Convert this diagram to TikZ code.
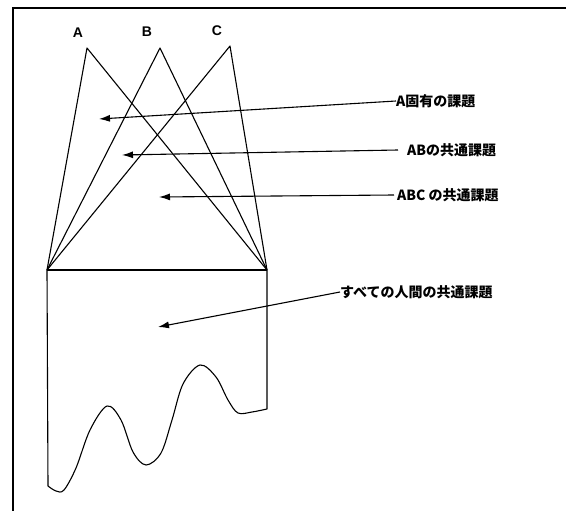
\documentclass[tikz,border=0pt]{standalone}
\usepackage{fontspec}
\setmainfont{Liberation Sans}
\newfontfamily\jp{Noto Sans CJK JP}
\usetikzlibrary{arrows.meta}
\begin{document}
\begin{tikzpicture}[x=1pt,y=-1pt,
  edge/.style={line width=1.1pt,line join=round},
  ptr/.style={line width=1.1pt,-{Latex[length=11pt,width=7pt]}},
  lab/.style={font=\jp\bfseries\fontsize{14}{14}\selectfont,anchor=west,inner sep=0pt},
  letter/.style={font=\bfseries\fontsize{14}{14}\selectfont,inner sep=0pt}]
\useasboundingbox (0,0) rectangle (566,511);
\fill[white] (0,0) rectangle (566,511);
% frame (top and left edges visible)
\coordinate (ftl) at (13,8);
\coordinate (ftr) at (566,8);
\coordinate (fbl) at (13,511);
\draw[line width=1.4pt] (ftr) -- (ftl) -- (fbl);
% apexes and base
\coordinate (pa) at (87,48);
\coordinate (pb) at (160,48);
\coordinate (pc) at (230,46);
\coordinate (bl) at (47,270);
\coordinate (br) at (267,270);
\node[letter] (la) at (78,33) {A};
\node[letter] (lb) at (147,32) {B};
\node[letter] (lc) at (217,31) {C};
\draw[edge] (bl) -- (pa) -- (br);
\draw[edge] (bl) -- (pb) -- (br);
\draw[edge] (bl) -- (pc) -- (br);
\draw[edge] (bl) -- (br);
% lower body with wavy bottom
\coordinate (bll) at (48,486);
\coordinate (brl) at (267,409);
\draw[edge] (bl) -- (bll)
  plot[smooth,tension=0.55] coordinates {(48,486) (56,491) (64,490) (76,468) (90,430) (107,406) (121,420) (133,452) (146,465) (161,453) (172,420) (183,384) (200,365) (216,377) (228,400) (238,413) (252,412) (267,409)}
  -- (br);
% labels
\node[lab] (t1) at (396,101) {A固有の課題};
\node[lab] (t2) at (407,150) {ABの共通課題};
\node[lab] (t3) at (397,195) {ABC の共通課題};
\node[lab] (t4) at (340,292) {すべての人間の共通課題};
\coordinate (h1) at (99,119);
\coordinate (h2) at (122,155);
\coordinate (h3) at (159,197);
\coordinate (h4) at (158,327);
\draw[ptr] (t1.west) -- (h1);
\draw[ptr] (t2.west) ++(-9,0) -- (h2);
\draw[ptr] (t3.west) ++(-3,0) -- (h3);
\draw[ptr] (t4.west) -- (h4);
\end{tikzpicture}
\end{document}
